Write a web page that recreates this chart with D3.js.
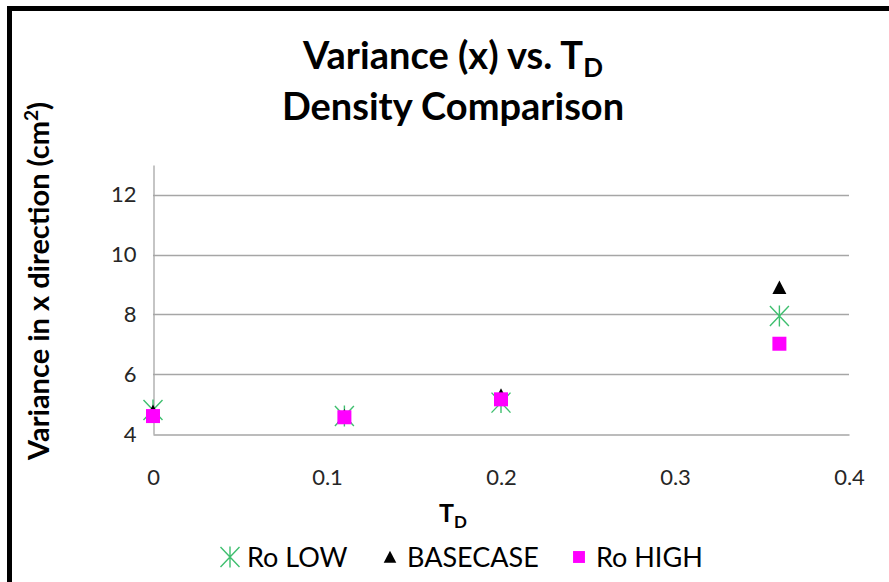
<!DOCTYPE html>
<html>
<head>
<meta charset="utf-8">
<script src="https://cdn.jsdelivr.net/npm/d3@7"></script>
<style>
  body { margin: 0; background: #fff; }
  svg { display: block; font-family: Lato, "Open Sans", sans-serif; }
</style>
</head>
<body>
<div class="canvas"></div>
<script>
// data
const seriesNames = ['Ro LOW', 'BASECASE', 'Ro HIGH'];
const tdValues = [0, 0.11, 0.2, 0.36];
const roLow = [4.8, 4.6, 5.05, 7.95];
const basecase = [4.75, 4.6, 5.3, 8.9];
const roHigh = [4.6, 4.56, 5.16, 7.02];
const xTicks = [0, 0.1, 0.2, 0.3, 0.4];
const yTicks = [4, 6, 8, 10, 12];

const dims = { w: 889, h: 582 };
const plot = { left: 153, right: 849, top: 165, bottom: 434 };

const svg = d3.select('.canvas')
  .append('svg')
    .attr('width', dims.w)
    .attr('height', dims.h);

svg.append('rect')
  .attr('width', dims.w).attr('height', dims.h)
  .attr('fill', '#fff');

// outer frame (only top and left edges are inside the picture)
svg.append('rect')
  .attr('x', 9.5).attr('y', 8.5)
  .attr('width', dims.w + 20).attr('height', dims.h + 20)
  .attr('fill', 'none')
  .attr('stroke', '#000')
  .attr('stroke-width', 5);

// scales
const x = d3.scaleLinear().domain([0, 0.4]).range([plot.left, plot.right]);
const y = d3.scaleLinear().domain([4, 13]).range([plot.bottom, plot.top]);

// gridlines
svg.append('g')
  .selectAll('line')
  .data(yTicks.filter(d => d > 4))
  .join('line')
    .attr('x1', plot.left).attr('x2', plot.right)
    .attr('y1', d => Math.round(y(d)) + 0.5).attr('y2', d => Math.round(y(d)) + 0.5)
    .attr('stroke', '#a6a6a6')
    .attr('stroke-width', 1.3);

// axes
const xAxis = d3.axisBottom(x).tickValues(xTicks).tickSize(0).tickPadding(35)
  .tickFormat(d => d === 0 ? '0' : d3.format('.1f')(d));
const yAxis = d3.axisLeft(y).tickValues(yTicks).tickSize(0).tickPadding(17);

const gx = svg.append('g')
  .attr('transform', `translate(0,${Math.round(plot.bottom) + 0.5})`)
  .call(xAxis);
const gy = svg.append('g')
  .attr('transform', `translate(${plot.left + 0.5},0)`)
  .call(yAxis);

[gx, gy].forEach(g => {
  g.select('.domain').attr('stroke', '#a6a6a6').attr('stroke-width', 1.3);
  g.selectAll('text')
    .attr('font-family', 'Lato, sans-serif')
    .attr('font-size', 22)
    .attr('fill', '#262626');
});

// markers
const starPath = 'M-9.5,-10L9.5,10M-9.5,10L9.5,-10M0,-10.5L0,10.5';
const triPath = 'M0,-7L7,6.5L-7,6.5Z';

const drawStar = (sel) => sel.append('path')
  .attr('d', starPath)
  .attr('stroke', '#3fbf6f')
  .attr('stroke-width', 1.4)
  .attr('fill', 'none');
const drawTri = (sel) => sel.append('path')
  .attr('d', triPath)
  .attr('fill', '#000');
const drawSquare = (sel) => sel.append('rect')
  .attr('x', -7).attr('y', -7)
  .attr('width', 14).attr('height', 14)
  .attr('fill', '#ff00ff');

const series = [
  { name: seriesNames[0], values: roLow, draw: drawStar },
  { name: seriesNames[1], values: basecase, draw: drawTri },
  { name: seriesNames[2], values: roHigh, draw: drawSquare }
];

series.forEach(s => {
  const pts = svg.append('g')
    .selectAll('g')
    .data(tdValues.map((t, i) => ({ t, v: s.values[i] })))
    .join('g')
      .attr('transform', d => `translate(${x(d.t)},${y(d.v)})`);
  s.draw(pts);
});

// title
const title = svg.append('text')
  .attr('text-anchor', 'middle')
  .attr('font-weight', 'bold')
  .attr('font-size', 38)
  .attr('fill', '#000');
const t1 = title.append('tspan').attr('x', 453).attr('y', 69);
t1.append('tspan').text('Variance (x) vs. T');
t1.append('tspan').attr('font-size', 26).attr('dy', 8).text('D');
title.append('tspan').attr('x', 453).attr('y', 120).text('Density Comparison');

// y axis title
const yt = svg.append('text')
  .attr('transform', 'translate(49,281) rotate(-90)')
  .attr('text-anchor', 'middle')
  .attr('font-weight', 'bold')
  .attr('font-size', 29)
  .attr('fill', '#000');
yt.append('tspan').text('Variance in x direction (cm');
yt.append('tspan').attr('font-size', 19).attr('dy', -11).text('2');
yt.append('tspan').attr('dy', 11).text(')');

// x axis title
const xt = svg.append('text')
  .attr('x', 453).attr('y', 522)
  .attr('text-anchor', 'middle')
  .attr('font-weight', 'bold')
  .attr('font-size', 25)
  .attr('fill', '#000');
xt.append('tspan').text('T');
xt.append('tspan').attr('font-size', 17).attr('dy', 6).text('D');

// legend
const legendX = [230, 390, 579];
const legend = svg.append('g')
  .selectAll('g')
  .data(series)
  .join('g')
    .attr('transform', (d, i) => `translate(${legendX[i]},557)`);
legend.each(function(d) {
  const g = d3.select(this);
  d.draw(g);
  g.select('path,rect').attr('transform', d.name === 'BASECASE' ? 'scale(0.9)' : d.name === 'Ro HIGH' ? 'scale(0.85)' : null);
  g.append('text')
    .attr('x', 17)
    .attr('y', 10)
    .attr('font-size', 27)
    .attr('fill', '#000')
    .text(d.name);
});
</script>
</body>
</html>
